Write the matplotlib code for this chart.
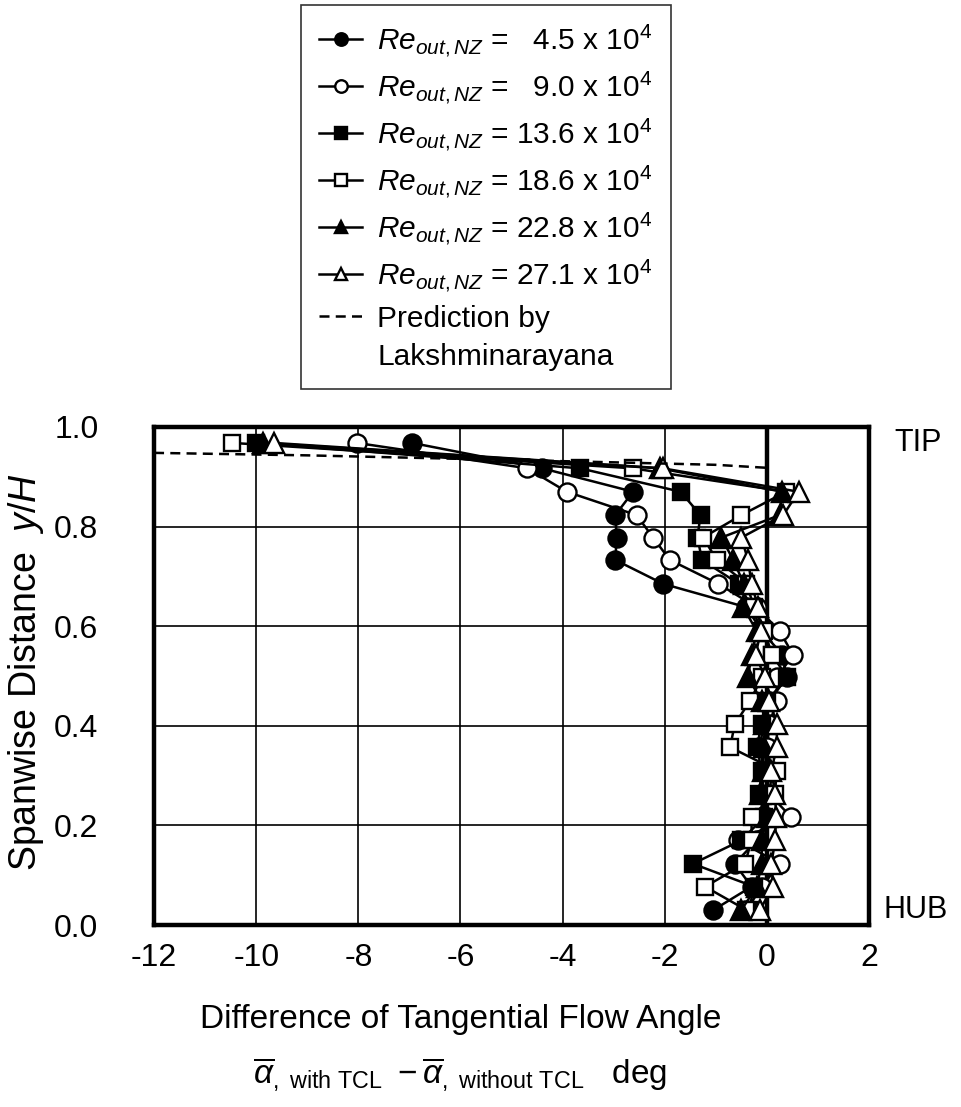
import matplotlib
matplotlib.use("Agg")
import matplotlib.pyplot as plt
from matplotlib.lines import Line2D

plt.rcParams['font.family'] = ['Liberation Sans', 'DejaVu Sans']
plt.rcParams['mathtext.fontset'] = 'custom'
plt.rcParams['mathtext.rm'] = 'Liberation Sans'
plt.rcParams['mathtext.it'] = 'Liberation Sans:italic'
plt.rcParams['mathtext.bf'] = 'Liberation Sans:bold'
plt.rcParams['axes.unicode_minus'] = False

# spanwise positions y/H
y_levels = [0.968, 0.917, 0.870, 0.823, 0.778, 0.733, 0.685, 0.638, 0.590, 0.543,
            0.497, 0.450, 0.403, 0.357, 0.310, 0.263, 0.217, 0.170, 0.123, 0.077, 0.030]

re_45 = [-6.95, -4.40, -2.62, -2.97, -2.94, -2.97, -2.03, -0.40, -0.10, 0.30,
         0.39, 0.05, -0.05, -0.15, -0.05, -0.10, 0.00, -0.20, -0.63, -0.30, -1.05]
re_90 = [-8.03, -4.69, -3.92, -2.55, -2.23, -1.90, -0.95, -0.20, 0.25, 0.51,
         0.20, 0.19, 0.05, 0.00, 0.10, 0.05, 0.47, -0.56, 0.25, -0.10, -0.40]
re_136 = [-10.00, -3.66, -1.69, -1.30, -1.36, -1.27, -0.55, -0.30, -0.10, 0.10,
          0.40, 0.00, -0.10, -0.20, -0.10, -0.15, -0.05, -0.50, -1.45, -0.25, -0.35]
re_186 = [-10.47, -2.63, 0.38, -0.50, -1.25, -0.98, -0.40, -0.25, -0.05, 0.10,
          -0.10, -0.33, -0.63, -0.72, 0.20, 0.15, -0.30, -0.30, -0.43, -1.21, -0.40]
re_228 = [-9.86, -2.10, 0.30, 0.25, -0.89, -0.66, -0.45, -0.46, -0.20, -0.30,
          -0.37, -0.10, -0.05, -0.05, -0.08, -0.14, 0.00, -0.10, -0.10, -0.20, -0.50]
re_271 = [-9.66, -2.04, 0.62, 0.32, -0.50, -0.37, -0.30, -0.17, -0.12, -0.22,
          -0.04, 0.05, 0.20, 0.19, 0.09, 0.16, 0.18, 0.16, 0.09, 0.12, -0.14]

pred_x = [-12.0, -9.0, -6.0, -3.0, -1.0, 0.0]
pred_y = [0.948, 0.943, 0.936, 0.929, 0.924, 0.918]

series = [
    (re_45, 'o', 'black', r'$Re_{out,NZ}$ =   4.5 x 10$^4$'),
    (re_90, 'o', 'white', r'$Re_{out,NZ}$ =   9.0 x 10$^4$'),
    (re_136, 's', 'black', r'$Re_{out,NZ}$ = 13.6 x 10$^4$'),
    (re_186, 's', 'white', r'$Re_{out,NZ}$ = 18.6 x 10$^4$'),
    (re_228, '^', 'black', r'$Re_{out,NZ}$ = 22.8 x 10$^4$'),
    (re_271, '^', 'white', r'$Re_{out,NZ}$ = 27.1 x 10$^4$'),
]

fig = plt.figure(figsize=(9.61, 11.07), dpi=100)
ax = fig.add_axes([0.1603, 0.1644, 0.7440, 0.4499])

ax.set_xlim(-12, 2)
ax.set_ylim(0, 1.0)
ax.set_xticks([-12, -10, -8, -6, -4, -2, 0, 2])
ax.set_yticks([0.0, 0.2, 0.4, 0.6, 0.8, 1.0])
ax.set_yticklabels(['0.0', '0.2', '0.4', '0.6', '0.8', '1.0'])
ax.grid(True, color='black', linewidth=1.2)
ax.axvline(0, color='black', linewidth=3.2, zorder=2)
ax.tick_params(axis='both', length=0, labelsize=23)
ax.tick_params(axis='x', pad=13)
ax.tick_params(axis='y', pad=40)
for sp in ax.spines.values():
    sp.set_linewidth(3.2)
    sp.set_color('black')

handles = []
for xs, mk, fc, lab in series:
    ms = 13 if mk != '^' else 14
    if mk == 's':
        ms = 12
    h, = ax.plot(xs, y_levels, color='black', linewidth=1.8, marker=mk,
                 markersize=ms, markerfacecolor=fc, markeredgecolor='black',
                 markeredgewidth=1.7, label=lab, zorder=3, clip_on=False)
    handles.append(h)

hp, = ax.plot(pred_x, pred_y, color='black', linestyle=(0, (4, 2.5)), linewidth=1.8,
              label='Prediction by', zorder=3)
handles.append(hp)
blank = Line2D([], [], linestyle='none', marker=None, label='Lakshminarayana')
handles.append(blank)

ax.text(1.035, 0.968, 'TIP', transform=ax.get_yaxis_transform(), fontsize=22,
        ha='left', va='center')
ax.text(1.02, 0.03, 'HUB', transform=ax.get_yaxis_transform(), fontsize=22,
        ha='left', va='center')

fig.text(0.027, 0.393, r'Spanwise Distance  $y/H$', rotation=90, fontsize=27,
         ha='center', va='center')
fig.text(0.479, 0.079, 'Difference of Tangential Flow Angle', fontsize=24,
         ha='center', va='center')
fig.text(0.479, 0.029,
         r'$\overline{\alpha}_{\mathrm{,\ with\ TCL}}\ -\overline{\alpha}_{\mathrm{,\ without\ TCL}}$   deg',
         fontsize=24, ha='center', va='center')

leg = fig.legend(handles=handles, loc='upper center', bbox_to_anchor=(0.5055, 0.9955),
                 fontsize=21.5, frameon=True, fancybox=False, edgecolor='black',
                 handlelength=1.45, handletextpad=0.5, labelspacing=0.36,
                 borderpad=0.6, borderaxespad=0)
leg.get_frame().set_linewidth(1.2)
for lh in leg.legend_handles:
    lh.set_markersize(9)
    lh.set_linewidth(1.8)

fig.savefig('out.png', dpi=100, facecolor='white')
